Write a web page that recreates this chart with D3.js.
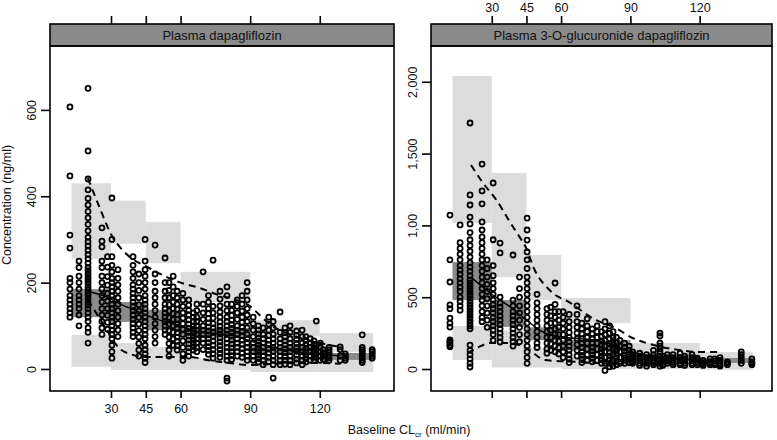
<!DOCTYPE html>
<html><head><meta charset="utf-8">
<script src="https://cdn.jsdelivr.net/npm/d3@7"></script>
<style>body{margin:0;background:#fff}svg{display:block}text{font-family:"Liberation Sans",Arial,Helvetica,sans-serif;fill:#111}</style>
</head><body><svg id="c" width="777" height="440"></svg>
<script>
// ---------- data ----------
const panelTitles = ["Plasma dapagliflozin", "Plasma 3-O-glucuronide dapagliflozin"];
const xTicks = [30, 45, 60, 90, 120];
const yTicksLeft = [0, 200, 400, 600];
const yTickLabelsLeft = ["0", "200", "400", "600"];
const yTicksRight = [0, 500, 1000, 1500, 2000];
const yTickLabelsRight = ["0", "500", "1,00", "1,500", "2,000"];
const binEdges = [13, 30, 45, 60, 90, 120, 143];

// Plasma dapagliflozin: prediction-interval bands per bin
const dapaUpperHi = [430, 390, 340, 225, 113, 83];
const dapaUpperLo = [255, 290, 245, 155, 75, 40];
const dapaMedHi = [185, 155, 137, 95, 51, 37];
const dapaMedLo = [120, 109, 90, 75, 37, 21];
const dapaLowHi = [79, 60, 51, 25, 28, 28];
const dapaLowLo = [5, -2, -2, -2, -7, -7];
// observed percentiles (dashed 5th/95th, solid median)
const dapaP95 = [[20,442],[25,375],[30,312],[35,275],[40,252],[45,238],[52,218],[60,200],[68,188],[76,172],[84,160],[90,145],[95,120],[100,98],[110,75],[120,60],[129,51]];
const dapaP05 = [[20,160],[25,118],[30,75],[33,51],[38,35],[45,28],[55,28],[64,28],[72,20],[81,14],[90,9],[100,12],[110,14],[119,14],[129,12]];
const dapaP50 = [[20,180],[28,167],[35,148],[40,137],[51,113],[60,100],[65,90],[75,82],[84,75],[90,65],[100,50],[110,40],[120,35],[129,30]];
// observations: CLcr column and concentrations
const dapaX = [12.3, 16.2, 20.1, 26.1, 28.5, 30.4, 33, 39.5, 42, 44.7, 49, 53.3, 55, 56.8, 58.5, 61, 63.5, 65.5, 67, 69.7, 72, 74, 77, 80, 82, 84.4, 86.5, 88.7, 91.3, 93.5, 95.6, 98, 99.9, 102.9, 105, 107.2, 110, 112.4, 114, 115.9, 117.5, 118.5, 120.2, 121.5, 124, 128.8, 131, 138.3, 142.6];
const dapaY = [
  [607, 447, 310, 280, 210, 200, 185, 170, 160, 150, 140, 130, 120],
  [250, 235, 215, 200, 185, 170, 160, 150, 140, 125, 100],
  [650, 505, 440, 415, 395, 380, 365, 350, 335, 320, 305, 295, 285, 275, 265, 255, 245, 235, 228, 220, 212, 205, 198, 190, 183, 176, 170, 163, 155, 148, 140, 130, 120, 110, 95, 85, 60],
  [327, 296, 283, 250, 235, 215, 200, 185, 170, 155, 140, 125, 110, 95, 80],
  [260, 236, 214, 194, 175, 157, 140, 124, 108, 92],
  [396, 300, 260, 240, 225, 210, 200, 190, 180, 170, 160, 150, 140, 130, 120, 110, 100, 90, 80, 70, 55, 40, 25],
  [230, 210, 195, 180, 165, 150, 135, 120, 105, 90, 75],
  [260, 240, 225, 210, 195, 185, 175, 165, 155, 145, 135, 125, 115, 105, 95, 85, 75],
  [220, 200, 182, 165, 149, 134, 119, 104, 89, 74, 59, 44, 30],
  [300, 250, 230, 215, 200, 185, 170, 160, 150, 140, 130, 120, 110, 100, 90, 80, 70, 55, 45, 35, 25, 15],
  [287, 220, 200, 180, 165, 150, 135, 120, 105, 90, 75, 60],
  [257, 200, 180, 165, 150, 140, 130, 120, 110, 100, 90, 80],
  [200, 182, 165, 149, 134, 119, 104, 89, 74, 59, 44, 30],
  [215, 190, 170, 155, 140, 128, 115, 100, 85, 70, 55],
  [180, 165, 150, 138, 126, 115, 104, 94, 84, 74, 64, 54, 44],
  [175, 160, 145, 130, 118, 105, 92, 80, 65, 50, 35, 20],
  [160, 148, 136, 125, 114, 104, 94, 85, 76, 67, 58, 49, 40, 30],
  [130, 120, 110, 100, 92, 84, 76, 68, 60, 52, 44],
  [150, 135, 120, 110, 100, 90, 80, 70, 60, 50, 40],
  [225, 150, 130, 115, 100, 90, 80, 70, 60, 45],
  [170, 155, 140, 128, 117, 107, 97, 88, 79, 70, 61, 52, 43, 34],
  [252, 145, 130, 118, 105, 95, 85, 75, 65, 55, 45, 35, 25],
  [180, 162, 146, 132, 120, 109, 99, 90, 81, 72, 63, 54, 45, 36, 27],
  [190, 170, 150, 135, 120, 110, 100, 90, 80, 70, 60, 50, 40, 30, 20, -21, -28],
  [150, 136, 124, 113, 103, 94, 85, 76, 67, 58, 49, 40, 31, 22],
  [160, 145, 130, 115, 100, 90, 80, 70, 60, 50, 40, 30],
  [170, 150, 134, 120, 108, 97, 87, 77, 67, 57, 47, 37, 27],
  [200, 180, 160, 140, 125, 110, 95, 80, 70, 60, 50, 40, 30, 20],
  [120, 105, 90, 75, 60, 50, 40, 30, 20],
  [100, 90, 81, 72, 64, 56, 48, 40, 32, 24, 16],
  [95, 80, 70, 60, 50, 40, 30, 20, 10],
  [120, 104, 90, 78, 67, 57, 47, 37, 27, 17],
  [110, 95, 80, 70, 60, 50, 40, 30, 20, 10, -21],
  [132, 85, 70, 60, 50, 40, 30, 20, 10],
  [95, 84, 74, 65, 56, 47, 38, 29, 20, 11],
  [100, 85, 70, 60, 50, 40, 30, 20, 10],
  [88, 78, 68, 59, 50, 41, 32, 23, 14],
  [90, 75, 60, 50, 40, 30, 20, 10],
  [75, 66, 57, 48, 40, 32, 24, 16],
  [70, 60, 50, 40, 30, 20],
  [65, 57, 49, 41, 34, 27, 20],
  [111, 55, 45, 35],
  [60, 50, 40, 30, 20],
  [45, 38, 30, 22],
  [50, 44, 38, 32, 26, 20],
  [51, 45, 30, 20],
  [35, 30, 25, 20],
  [79, 50, 45, 40, 35, 30, 25, 20, 15],
  [45, 40, 35, 30, 25]
];

// Plasma 3-O-glucuronide dapagliflozin
const glucUpperHi = [2040, 1365, 794, 494, 181, 118];
const glucUpperLo = [1017, 640, 480, 320, 100, 77];
const glucMedHi = [745, 480, 290, 200, 100, 77];
const glucMedLo = [480, 293, 200, 130, 60, 42];
const glucLowHi = [300, 270, 150, 80, 60, 42];
const glucLowLo = [63, 10, 10, 0, 0, -5];
const glucP95 = [[21,1420],[26,1300],[32,1177],[38,1020],[42,920],[45,840],[48,710],[55,550],[64,460],[75,341],[83,290],[91,216],[100,167],[110,135],[120,118],[128,118]];
const glucP05 = [[19.4,111],[24,150],[29.4,181],[36.6,181],[45,146],[53,63],[67.5,49],[80,40],[90,35],[100,35],[110,40],[120,40],[128,40]];
const glucP50 = [[21,640],[29.4,529],[38,432],[45,341],[53,251],[64,216],[75,202],[85,150],[90,120],[100,90],[110,70],[120,60],[128,55]];
const glucX = [11.9, 16.3, 20.6, 25.8, 28, 30.6, 33.6, 39.2, 42, 45.3, 49.6, 53.9, 55.5, 57.4, 59, 60.9, 63.5, 66.9, 69, 71.3, 73.5, 75.6, 77.5, 79, 81, 82.5, 84, 85.5, 87.5, 89.5, 91, 94, 97, 100, 102.8, 104, 106, 108.5, 111.5, 113.5, 116.7, 119, 121.5, 124.5, 126.5, 128.8, 132, 138, 142.6];
const glucY = [
  [1072, 760, 606, 446, 420, 355, 320, 292, 202, 190, 180, 165, 155],
  [1003, 880, 840, 800, 760, 720, 690, 660, 630, 600, 570, 540, 500, 470, 440, 410],
  [1713, 1212, 1142, 1058, 1010, 950, 900, 860, 820, 780, 740, 710, 680, 650, 620, 600, 580, 560, 540, 520, 500, 480, 460, 440, 420, 400, 380, 360, 340, 320, 300, 280, 167, 130, 100, 70, 40, 14],
  [1427, 1240, 1150, 1024, 968, 920, 880, 840, 800, 760, 720, 680, 640, 600, 560, 520, 480, 440, 400, 360, 330],
  [760, 700, 640, 590, 540, 490, 440, 390, 340, 290],
  [1295, 900, 720, 650, 600, 560, 520, 480, 450, 420, 390, 360, 330, 300, 270, 240, 200],
  [877, 808, 500, 460, 430, 400, 370, 340, 310, 280, 250, 220, 188],
  [794, 480, 440, 400, 370, 340, 310, 280, 250, 220, 190, 160],
  [640, 560, 500, 440, 390, 340, 290, 240, 190],
  [1051, 968, 898, 815, 760, 700, 640, 600, 560, 520, 480, 440, 400, 360, 320, 280, 240, 200, 160, 120, 80, 40],
  [520, 460, 420, 380, 340, 300, 260, 220, 180, 150],
  [420, 380, 340, 300, 260, 220, 180, 140, 110],
  [430, 370, 320, 270, 220, 175, 130],
  [599, 450, 400, 360, 320, 280, 240, 200, 160, 120],
  [400, 340, 290, 240, 195, 150, 105],
  [400, 360, 320, 280, 240, 200, 160, 120, 80],
  [380, 330, 290, 255, 220, 190, 160, 130, 100, 70, 45],
  [440, 380, 330, 290, 250, 210, 170, 130, 90],
  [320, 280, 245, 210, 180, 150, 120, 95, 70, 45],
  [350, 300, 260, 220, 180, 140, 100, 60],
  [280, 245, 210, 180, 150, 125, 100, 75, 50],
  [300, 260, 220, 180, 140, 100, 60],
  [260, 225, 195, 165, 140, 115, 90, 65, 40],
  [330, 280, 240, 200, 160, 120, 80, 40, -10],
  [300, 250, 210, 175, 145, 115, 90, 65, 40, 15],
  [260, 220, 180, 140, 100, 60, 20],
  [220, 185, 155, 130, 105, 80, 55, 30],
  [200, 160, 120, 80, 40],
  [180, 150, 125, 100, 80, 60, 40],
  [160, 130, 105, 85, 65, 45],
  [120, 100, 80, 60, 40],
  [110, 90, 70, 55, 40, 25],
  [100, 80, 60, 40, 20],
  [130, 100, 80, 60, 45, 30],
  [250, 230, 180, 160, 140, 120, 90, 60, 40, 20],
  [90, 70, 55, 40, 25],
  [100, 80, 60, 40],
  [100, 80, 60, 45, 30],
  [110, 80, 60, 40, 30],
  [90, 70, 55, 40, 25],
  [100, 80, 60, 40, 30],
  [75, 60, 45, 30],
  [60, 45, 35, 25],
  [70, 50, 40, 30],
  [70, 55, 40, 30],
  [80, 60, 40, 30, 20],
  [50, 40, 30],
  [120, 100, 80, 60, 40],
  [70, 50, 40, 30]
];

// ---------- drawing ----------
const svg = d3.select("#c");
const plotTop = 46, plotBottom = 391, stripTop = 24;
const LIGHT = "#dcdcdc", DARK = "#8a8a8a";

const panels = [
  { title: panelTitles[0], x0: 50, x1: 394, xDom: [3.7, 152], yDom: [-51, 748],
    yTicks: yTicksLeft, yLabels: yTickLabelsLeft, bottomLabels: true, topLabels: false,
    upHi: dapaUpperHi, upLo: dapaUpperLo, mdHi: dapaMedHi, mdLo: dapaMedLo, loHi: dapaLowHi, loLo: dapaLowLo,
    p95: dapaP95, p05: dapaP05, p50: dapaP50, obsX: dapaX, obsY: dapaY },
  { title: panelTitles[1], x0: 431, x1: 772, xDom: [3.7, 151.3], yDom: [-153, 2249],
    yTicks: yTicksRight, yLabels: yTickLabelsRight, bottomLabels: false, topLabels: true,
    upHi: glucUpperHi, upLo: glucUpperLo, mdHi: glucMedHi, mdLo: glucMedLo, loHi: glucLowHi, loLo: glucLowLo,
    p95: glucP95, p05: glucP05, p50: glucP50, obsX: glucX, obsY: glucY }
];

panels.forEach(p => {
  const x = d3.scaleLinear().domain(p.xDom).range([p.x0, p.x1]);
  const y = d3.scaleLinear().domain(p.yDom).range([plotBottom, plotTop]);
  const g = svg.append("g");
  const clipId = "clip" + p.x0;
  svg.append("clipPath").attr("id", clipId).append("rect")
    .attr("x", p.x0).attr("y", plotTop).attr("width", p.x1 - p.x0).attr("height", plotBottom - plotTop);
  const inner = g.append("g").attr("clip-path", `url(#${clipId})`);

  // bands
  const bins = d3.range(binEdges.length - 1);
  const band = (hi, lo, col) => inner.append("g").selectAll("rect").data(bins).join("rect")
    .attr("x", i => x(binEdges[i])).attr("width", i => x(binEdges[i + 1]) - x(binEdges[i]))
    .attr("y", i => y(hi[i])).attr("height", i => y(lo[i]) - y(hi[i]))
    .attr("fill", col);
  band(p.upHi, p.upLo, LIGHT);
  band(p.loHi, p.loLo, LIGHT);
  band(p.mdHi, p.mdLo, DARK);

  // percentile lines
  const line = d3.line().x(d => x(d[0])).y(d => y(d[1])).curve(d3.curveMonotoneX);
  inner.append("path").attr("d", line(p.p50)).attr("fill", "none").attr("stroke", "#000")
    .attr("stroke-width", 1.4);

  // observations
  const pts = [];
  p.obsX.forEach((cx, i) => p.obsY[i].forEach(v => pts.push([cx, v])));
  inner.append("g").selectAll("circle").data(pts).join("circle")
    .attr("cx", d => x(d[0])).attr("cy", d => y(d[1])).attr("r", 2.5)
    .attr("fill", "none").attr("stroke", "#000").attr("stroke-width", 1.8);

  inner.append("path").attr("d", line(p.p95)).attr("fill", "none").attr("stroke", "#000")
    .attr("stroke-width", 2).attr("stroke-dasharray", "7,5");
  inner.append("path").attr("d", line(p.p05)).attr("fill", "none").attr("stroke", "#000")
    .attr("stroke-width", 2).attr("stroke-dasharray", "7,5");

  // strip
  g.append("rect").attr("x", p.x0).attr("y", stripTop).attr("width", p.x1 - p.x0).attr("height", plotTop - stripTop)
    .attr("fill", "#8a8a8a").attr("stroke", "#000").attr("stroke-width", 1.6);
  g.append("text").attr("x", (p.x0 + p.x1) / 2).attr("y", (stripTop + plotTop) / 2 + 4.5)
    .attr("text-anchor", "middle").attr("font-size", 13).text(p.title);

  // frame
  g.append("rect").attr("x", p.x0).attr("y", plotTop).attr("width", p.x1 - p.x0).attr("height", plotBottom - plotTop)
    .attr("fill", "none").attr("stroke", "#000").attr("stroke-width", 1.6);

  // bottom axis
  const xb = g.append("g").attr("transform", `translate(0,${plotBottom})`)
    .call(d3.axisBottom(x).tickValues(xTicks).tickSize(7).tickSizeOuter(0).tickFormat(p.bottomLabels ? d3.format("d") : ""));
  xb.select(".domain").remove();
  xb.selectAll("line").attr("stroke-width", 1.6);
  xb.selectAll("text").attr("font-size", 12.5).attr("dy", "0.95em").attr("font-family", null);

  // top axis
  const xt = g.append("g").attr("transform", `translate(0,${stripTop})`)
    .call(d3.axisTop(x).tickValues(xTicks).tickSize(8).tickSizeOuter(0).tickFormat(p.topLabels ? d3.format("d") : ""));
  xt.select(".domain").remove();
  xt.selectAll("line").attr("stroke-width", 1.6);
  xt.selectAll("text").attr("font-size", 12.5).attr("y", -12).attr("font-family", null);

  // left axis
  const ya = g.append("g").attr("transform", `translate(${p.x0},0)`)
    .call(d3.axisLeft(y).tickValues(p.yTicks).tickSize(9).tickSizeOuter(0).tickFormat((d, i) => p.yLabels[i]));
  ya.select(".domain").remove();
  ya.selectAll("line").attr("stroke-width", 1.6);
  ya.selectAll("text").attr("font-size", 12.5).attr("font-family", null)
    .attr("x", null).attr("dy", null).attr("text-anchor", "middle")
    .attr("transform", "translate(-18,0) rotate(-90)").attr("y", 4);
});

// axis titles
svg.append("text").attr("transform", "translate(11,205) rotate(-90)").attr("text-anchor", "middle")
  .attr("font-size", 12.5).text("Concentration (ng/ml)");
const xt = svg.append("text").attr("x", 409).attr("y", 434).attr("text-anchor", "middle").attr("font-size", 12.5);
xt.append("tspan").text("Baseline CL");
xt.append("tspan").attr("font-size", 8).attr("dy", 3).text("cr");
xt.append("tspan").attr("dy", -3).text(" (ml/min)");
</script></body></html>
